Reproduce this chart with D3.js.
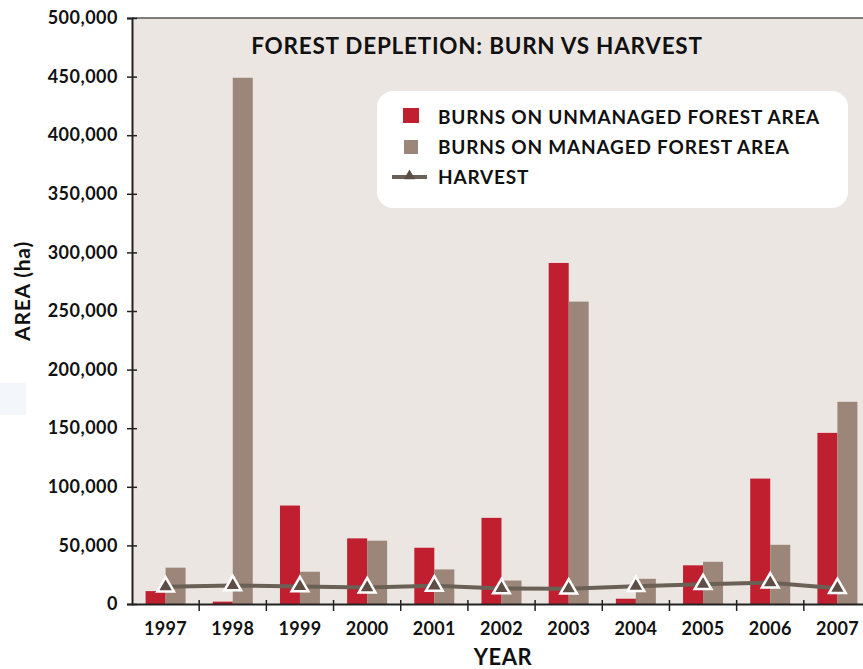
<!DOCTYPE html>
<html>
<head>
<meta charset="utf-8">
<script src="https://cdn.jsdelivr.net/npm/d3@7"></script>
<style>
body { margin:0; background:#fff; }
svg text { font-family: Lato, "Open Sans", sans-serif; font-weight:700; fill:#111; }
</style>
</head>
<body>
<svg width="863" height="669"></svg>
<script>
var years = ["1997","1998","1999","2000","2001","2002","2003","2004","2005","2006","2007"]
var unmanaged = [11000, 2000, 84000, 56000, 48000, 73500, 291000, 4500, 33000, 107000, 146000]
var managed = [31000, 449000, 27500, 54000, 29500, 20000, 258000, 21500, 36000, 50500, 172500]
var harvest = [14800, 15800, 15000, 14000, 15500, 13200, 13000, 15200, 16800, 18200, 13400]
var yTicks = [0,50000,100000,150000,200000,250000,300000,350000,400000,450000,500000]
var seriesNames = ["BURNS ON UNMANAGED FOREST AREA","BURNS ON MANAGED FOREST AREA","HARVEST"]

var colors = {unmanaged:"#c01f2f", managed:"#9c8679", harvest:"#6b6056", marker:"#5e4d45"}
var plot = {left:132, top:18, right:871, bottom:604}

var svg = d3.select("svg")

// faint background watermark on the left
svg.append("rect")
    .attr("x",0).attr("y",383).attr("width",26).attr("height",32)
    .attr("fill","#f3f7fb")

svg.append("rect")
    .attr("x",plot.left).attr("y",plot.top)
    .attr("width",plot.right-plot.left).attr("height",plot.bottom-plot.top)
    .attr("fill","#ece6e2")

var xScale = d3.scaleBand().domain(years).range([plot.left,plot.right]).padding(0)
var inner = d3.scaleBand().domain(["unmanaged","managed"])
    .range([0,xScale.bandwidth()]).paddingInner(0).paddingOuter(0.68)
var yScale = d3.scaleLinear().domain([0,500000]).range([plot.bottom,plot.top])

// bars
var groups = svg.append("g").selectAll("g")
    .data(years)
    .enter()
    .append("g")
    .attr("transform",function(d){ return "translate("+xScale(d)+",0)" })

groups.append("rect")
    .attr("x",inner("unmanaged"))
    .attr("width",inner.bandwidth())
    .attr("y",function(d,i){ return yScale(unmanaged[i]) })
    .attr("height",function(d,i){ return plot.bottom-yScale(unmanaged[i]) })
    .attr("fill",colors.unmanaged)

groups.append("rect")
    .attr("x",inner("managed"))
    .attr("width",inner.bandwidth())
    .attr("y",function(d,i){ return yScale(managed[i]) })
    .attr("height",function(d,i){ return plot.bottom-yScale(managed[i]) })
    .attr("fill",colors.managed)

// top border
svg.append("line")
    .attr("x1",plot.left).attr("x2",plot.right)
    .attr("y1",plot.top).attr("y2",plot.top)
    .attr("stroke","#555").attr("stroke-width",1.5)

// y axis
var yAxis = d3.axisLeft(yScale).tickValues(yTicks).tickFormat(d3.format(",")).tickSize(5).tickPadding(9)
var yg = svg.append("g")
    .attr("transform","translate("+plot.left+",0)")
    .call(yAxis)
yg.select(".domain").attr("stroke","#222").attr("stroke-width",2)
yg.selectAll(".tick line").attr("x1",5).attr("x2",-5).attr("stroke","#222").attr("stroke-width",1.5)
yg.selectAll(".tick text").attr("font-size",18).attr("letter-spacing",0.5)
    .attr("fill","#111").attr("font-family","Lato, sans-serif")

// x axis
var xAxis = d3.axisBottom(xScale).tickSize(0).tickPadding(18)
var xg = svg.append("g")
    .attr("transform","translate(0,"+plot.bottom+")")
    .call(xAxis)
xg.select(".domain").attr("stroke","#222").attr("stroke-width",2)
xg.selectAll(".tick text").attr("font-size",18).attr("letter-spacing",0.3)
    .attr("fill","#111").attr("font-family","Lato, sans-serif")

svg.append("g").selectAll("line")
    .data(years.slice(1))
    .enter()
    .append("line")
    .attr("x1",function(d){ return xScale(d) })
    .attr("x2",function(d){ return xScale(d) })
    .attr("y1",plot.bottom-4).attr("y2",plot.bottom+7)
    .attr("stroke","#222").attr("stroke-width",1.5)

// harvest line
var lineGenerator = d3.line()
    .x(function(v,i){ return xScale(years[i])+xScale.bandwidth()/2 })
    .y(function(v){ return yScale(v) })

svg.append("path")
    .datum(harvest)
    .attr("d",lineGenerator)
    .attr("fill","none")
    .attr("stroke",colors.harvest)
    .attr("stroke-width",4)

svg.append("g").selectAll("path")
    .data(harvest)
    .enter()
    .append("path")
    .attr("d",d3.symbol(d3.symbolTriangle).size(120))
    .attr("transform",function(v,i){ return "translate("+(xScale(years[i])+xScale.bandwidth()/2)+","+yScale(v)+")" })
    .attr("fill",colors.marker)
    .attr("stroke","#fff")
    .attr("stroke-width",2.5)

// title
svg.append("text")
    .attr("x",477).attr("y",54)
    .attr("text-anchor","middle")
    .attr("font-size",22.5)
    .attr("letter-spacing",0.75)
    .text("FOREST DEPLETION: BURN VS HARVEST")

// axis titles
svg.append("text")
    .attr("transform","translate(30,291) rotate(-90)")
    .attr("text-anchor","middle")
    .attr("font-size",21)
    .attr("letter-spacing",0.8)
    .text("AREA (ha)")

svg.append("text")
    .attr("x",503).attr("y",665)
    .attr("text-anchor","middle")
    .attr("font-size",22)
    .attr("letter-spacing",0.5)
    .text("YEAR")

// legend
var legend = svg.append("g")
legend.append("rect")
    .attr("x",377).attr("y",91).attr("width",471).attr("height",117)
    .attr("rx",16).attr("fill","#fff")

legend.append("rect").attr("x",403).attr("y",108).attr("width",16).attr("height",15).attr("fill",colors.unmanaged)
legend.append("rect").attr("x",404).attr("y",140).attr("width",14).attr("height",14).attr("fill",colors.managed)
legend.append("line").attr("x1",392).attr("x2",427).attr("y1",177).attr("y2",177)
    .attr("stroke",colors.harvest).attr("stroke-width",4)
legend.append("path")
    .attr("d",d3.symbol(d3.symbolTriangle).size(55))
    .attr("transform","translate(409.5,176)")
    .attr("fill",colors.marker)

legend.selectAll("text")
    .data(seriesNames)
    .enter()
    .append("text")
    .attr("x",438)
    .attr("y",function(d,i){ return [124,154,184][i] })
    .attr("font-size",19)
    .attr("letter-spacing",0.8)
    .text(function(d){ return d })
</script>
</body>
</html>
